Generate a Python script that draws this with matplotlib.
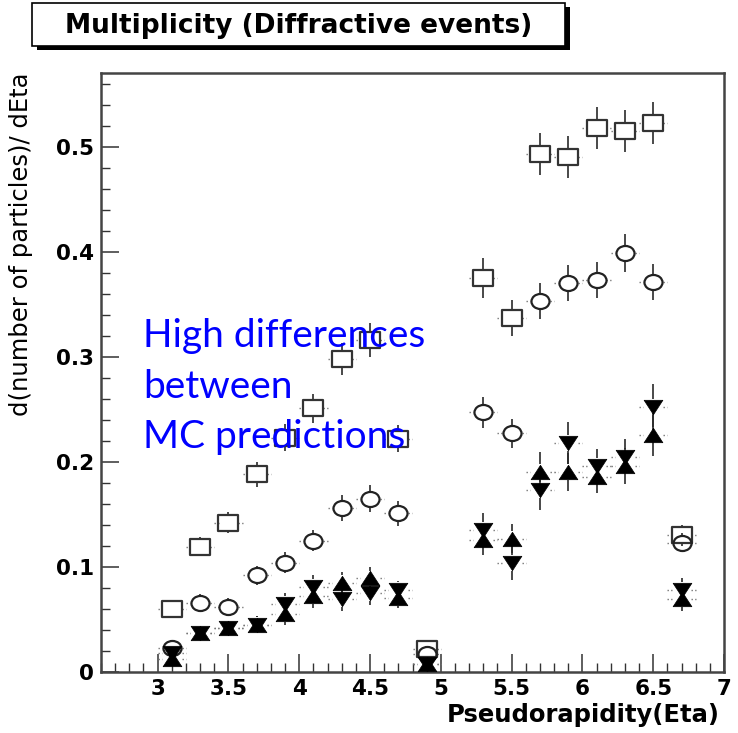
import matplotlib

matplotlib.use("Agg")
import matplotlib.pyplot as plt
import numpy as np
from matplotlib.patches import Rectangle
from matplotlib.path import Path
from matplotlib.ticker import FixedFormatter, FixedLocator, MultipleLocator
from matplotlib.transforms import Affine2D

# pseudorapidity bin centres (bin width 0.2, the 5.1 bin is empty)
eta = [3.1, 3.3, 3.5, 3.7, 3.9, 4.1, 4.3, 4.5, 4.7, 4.9,
       5.3, 5.5, 5.7, 5.9, 6.1, 6.3, 6.5, 6.7]

# dN/dEta for the four generator samples
open_squares = [0.060, 0.119, 0.142, 0.188, 0.223, 0.251, 0.298, 0.316, 0.222, 0.022,
                0.375, 0.337, 0.493, 0.490, 0.518, 0.515, 0.522, 0.130]
open_circles = [0.023, 0.066, 0.062, 0.092, 0.104, 0.125, 0.156, 0.165, 0.151, 0.017,
                0.247, 0.227, 0.353, 0.370, 0.373, 0.399, 0.371, 0.123]
up_triangles = [0.012, 0.037, 0.042, 0.045, 0.055, 0.072, 0.085, 0.089, 0.070, 0.008,
                0.126, 0.127, 0.190, 0.190, 0.186, 0.196, 0.226, 0.069]
down_triangles = [0.018, 0.037, 0.042, 0.045, 0.065, 0.081, 0.069, 0.075, 0.078, 0.008,
                  0.135, 0.104, 0.173, 0.218, 0.196, 0.205, 0.252, 0.078]

# statistical errors
err_squares = [0.008, 0.009, 0.010, 0.012, 0.013, 0.014, 0.015, 0.016, 0.013, 0.008,
               0.019, 0.017, 0.020, 0.020, 0.020, 0.020, 0.020, 0.010]
err_circles = [0.007, 0.008, 0.008, 0.009, 0.010, 0.010, 0.012, 0.013, 0.012, 0.007,
               0.015, 0.014, 0.017, 0.017, 0.017, 0.018, 0.017, 0.009]
err_up = [0.006, 0.007, 0.007, 0.008, 0.010, 0.011, 0.010, 0.011, 0.009, 0.006,
          0.015, 0.014, 0.019, 0.018, 0.016, 0.017, 0.020, 0.011]
err_down = [0.006, 0.007, 0.007, 0.008, 0.010, 0.011, 0.011, 0.011, 0.009, 0.006,
            0.016, 0.016, 0.019, 0.020, 0.016, 0.017, 0.022, 0.011]

x_ticks = [3, 3.5, 4, 4.5, 5, 5.5, 6, 6.5, 7]
x_tick_labels = ["3", "3.5", "4", "4.5", "5", "5.5", "6", "6.5", "7"]
y_ticks = [0, 0.1, 0.2, 0.3, 0.4, 0.5]
y_tick_labels = ["0", "0.1", "0.2", "0.3", "0.4", "0.5"]

note_lines = ["High differences", "between", "MC predictions"]

W, H = 738, 733
HALF_BIN = 0.1
X_GAP = 0.07      # marker half width in eta units
Y_GAP = 0.0075    # marker half height in dN/dEta units

plt.rcParams["font.family"] = ["DejaVu Sans"]

# slightly wide markers
rect_marker = Path([(-0.6, -0.5), (0.6, -0.5), (0.6, 0.5), (-0.6, 0.5), (-0.6, -0.5)],
                   closed=True)
ellipse_marker = Affine2D().scale(0.6, 0.5).transform_path(Path.unit_circle())
up_marker = Path([(-0.65, -0.5), (0.65, -0.5), (0.0, 0.5), (-0.65, -0.5)], closed=True)
down_marker = Path([(-0.65, 0.5), (0.65, 0.5), (0.0, -0.5), (-0.65, 0.5)], closed=True)


def draw_errors(ax, xs, ys, errs):
    xs = np.asarray(xs)
    ys = np.asarray(ys)
    errs = np.asarray(errs)
    show = errs > Y_GAP
    ax.vlines(xs[show], ys[show] + Y_GAP, ys[show] + errs[show], color="#2a2a2a", lw=1.2, zorder=2)
    ax.vlines(xs[show], ys[show] - errs[show], ys[show] - Y_GAP, color="#2a2a2a", lw=1.2, zorder=2)
    ax.hlines(ys, xs - HALF_BIN, xs - X_GAP, color="#777777", lw=1.0, linestyles=":", zorder=2)
    ax.hlines(ys, xs + X_GAP, xs + HALF_BIN, color="#777777", lw=1.0, linestyles=":", zorder=2)


fig = plt.figure(figsize=(W / 100, H / 100), dpi=100)
ax = fig.add_axes([101 / W, 1 - 672 / H, 623 / W, 599 / H])

for vals, errs in [(open_squares, err_squares), (open_circles, err_circles),
                   (up_triangles, err_up), (down_triangles, err_down)]:
    draw_errors(ax, eta, vals, errs)

ax.plot(eta, open_squares, ls="none", marker=rect_marker, ms=14, mfc="none",
        mec="#333333", mew=1.6, zorder=3)
ax.plot(eta, open_circles, ls="none", marker=ellipse_marker, ms=13, mfc="none",
        mec="#222222", mew=1.6, zorder=3)
ax.plot(eta, up_triangles, ls="none", marker=up_marker, ms=13.5, mfc="black",
        mec="black", mew=0.5, zorder=4)
ax.plot(eta, down_triangles, ls="none", marker=down_marker, ms=13.5, mfc="black",
        mec="black", mew=0.5, zorder=4)

ax.set_xlim(2.6, 7.0)
ax.set_ylim(0, 0.57)
ax.xaxis.set_major_locator(FixedLocator(x_ticks))
ax.xaxis.set_major_formatter(FixedFormatter(x_tick_labels))
ax.xaxis.set_minor_locator(MultipleLocator(0.1))
ax.yaxis.set_major_locator(FixedLocator(y_ticks))
ax.yaxis.set_major_formatter(FixedFormatter(y_tick_labels))
ax.yaxis.set_minor_locator(MultipleLocator(0.02))

ax.tick_params(which="both", direction="in", top=False, right=False, color="#333333")
ax.tick_params(which="major", length=13, width=1.1, labelsize=15.5, pad=5)
ax.tick_params(which="minor", length=6.5, width=1.0)
for lab in ax.get_xticklabels() + ax.get_yticklabels():
    lab.set_fontweight("bold")

for spine in ax.spines.values():
    spine.set_linewidth(1.8)
    spine.set_color("#444444")

ax.set_xlabel("Pseudorapidity(Eta)", fontsize=17.5, fontweight="bold", loc="right")
ax.xaxis.set_label_coords((720 - 101) / 623, -0.052)
ax.set_ylabel("d(number of particles)/ dEta", fontsize=17.5, loc="top")
ax.yaxis.set_label_coords((33 - 101) / 623, 1.0)

# title box with drop shadow
bx0, by0, bx1, by1 = 32, 3, 565, 46
fig.add_artist(Rectangle(((bx0 + 5) / W, 1 - (by1 + 4) / H), (bx1 - bx0) / W, (by1 - by0) / H,
                         transform=fig.transFigure, facecolor="black", edgecolor="black", lw=0))
fig.add_artist(Rectangle((bx0 / W, 1 - by1 / H), (bx1 - bx0) / W, (by1 - by0) / H,
                         transform=fig.transFigure, facecolor="white", edgecolor="black", lw=1.2))
fig.text((bx0 + bx1) / 2 / W, 1 - 33 / H, "Multiplicity (Diffractive events)",
         ha="center", va="baseline", fontsize=19, fontweight="bold")

# annotation
for i, line in enumerate(note_lines):
    fig.text(143 / W, 1 - (347 + 50.5 * i) / H, line, ha="left", va="baseline",
             fontsize=28, color="#0000ff", family=["Lato", "DejaVu Sans"])

fig.savefig("out.png", dpi=100)
